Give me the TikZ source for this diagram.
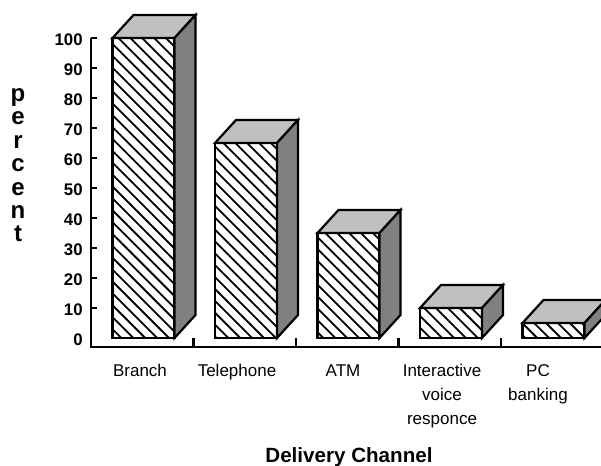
\documentclass[tikz,border=0pt]{standalone}
\usepackage{fontspec}
\setmainfont{Liberation Sans}
\usetikzlibrary{patterns.meta}
\definecolor{topgrey}{HTML}{C0C0C0}
\definecolor{sidegrey}{HTML}{808080}
\tikzset{
  barfront/.style={draw=black,line width=1.1pt,pattern={Lines[angle=-45,distance=4.2pt,line width=0.9pt]}},
  bartop/.style={draw=black,fill=topgrey,line width=1.1pt},
  barside/.style={draw=black,fill=sidegrey,line width=1.1pt},
  axisline/.style={line width=1.35pt},
  tickline/.style={line width=1.1pt},
  ticklabel/.style={font=\bfseries\fontsize{8.4}{10}\selectfont,anchor=east,inner sep=0pt},
  catlabel/.style={font=\fontsize{8.5}{12}\selectfont,align=center,anchor=base,inner sep=0pt},
}

\begin{document}
\begin{tikzpicture}[x=0.5pt,y=-0.5pt]
  \useasboundingbox (0,0) rectangle (601,466);
  \clip (0,0) rectangle (601,466);
  \fill[white] (0,0) rectangle (601,466);
  % bars
  \foreach \i/\val in {0/100,1/65,2/35,3/10,4/5}{
    \pgfmathsetmacro\xl{112.5+102.5*\i}
    \pgfmathsetmacro\xr{\xl+62}
    \pgfmathsetmacro\yt{338-3*\val}
    \draw[barfront] (\xl,338) rectangle (\xr,\yt);
    \draw[bartop] (\xl,\yt) -- ++(21,-23) -- ++(62,0) -- (\xr,\yt) -- cycle;
    \draw[barside] (\xr,\yt) -- ++(21,-23) -- ({\xr+21},315) -- (\xr,338) -- cycle;
  }
  % axes
  \draw[axisline] (91,38) -- (91,347) -- (601,347);
  \foreach \v in {10,20,...,100}
    \draw[tickline] (91,{338-3*\v}) -- ++(6,0);
  \foreach \i in {1,...,4}
    \draw[tickline] ({91+102.5*\i},347) -- ++(0,-9);
  \foreach \v in {0,10,...,100}
    \node[ticklabel] (y\v) at (83,{339.5-3*\v}) {\v};
  % labels (base = last line)
  \node[catlabel] (cat1) at (140,376) {Branch};
  \node[catlabel] (cat2) at (237,376) {Telephone};
  \node[catlabel] (cat3) at (343,376) {ATM};
  \node[catlabel] (cat4) at (442,424) {Interactive\\voice\\responce};
  \node[catlabel] (cat5) at (538,400) {PC\\banking};
  \node[font=\bfseries\fontsize{12}{11.75}\selectfont,align=center,anchor=base,inner sep=0pt] (ylab) at (18,242) {p\\e\\r\\c\\e\\n\\t};
  \node[font=\bfseries\fontsize{10.3}{12}\selectfont,anchor=base,inner sep=0pt] (xlab) at (349,462) {Delivery Channel};
\end{tikzpicture}
\end{document}
